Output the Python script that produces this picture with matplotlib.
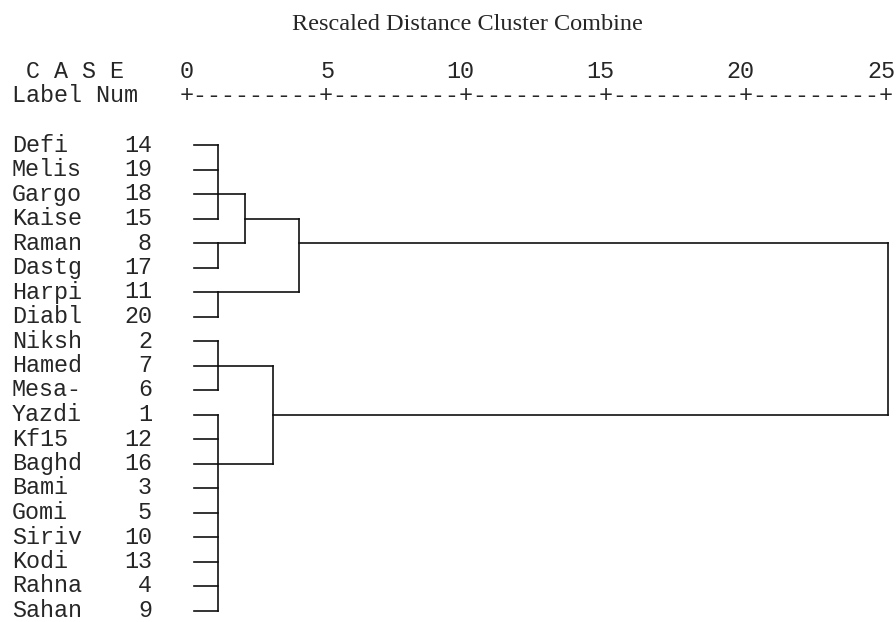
import matplotlib
matplotlib.use("Agg")
import matplotlib.pyplot as plt

# ---------------- Data ----------------
labels = ["Defi", "Melis", "Gargo", "Kaise", "Raman", "Dastg", "Harpi", "Diabl",
          "Niksh", "Hamed", "Mesa-", "Yazdi", "Kf15", "Baghd", "Bami", "Gomi",
          "Siriv", "Kodi", "Rahna", "Sahan"]
nums = [14, 19, 18, 15, 8, 17, 11, 20, 2, 7, 6, 1, 12, 16, 3, 5, 10, 13, 4, 9]

# first-level clusters: (first row, last row, row where the link leaves)
groups = {"A": (0, 3, 2), "B": (4, 5, 4), "C": (6, 7, 6),
          "D": (8, 10, 9), "E": (11, 19, 13)}
group_height = 1.1

# higher merges: name -> (left child, right child, height, row where link leaves)
merges = {"AB": ("A", "B", 2.07, 3),
          "ABC": ("AB", "C", 4.0, 4),
          "DE": ("D", "E", 3.07, 11),
          "ROOT": ("ABC", "DE", 25.0, None)}

ticks = [0, 5, 10, 15, 20, 25]
title = "Rescaled Distance Cluster Combine"

# ---------------- Layout ----------------
px_unit = 28.04      # pixels per distance unit
px_row = 24.5        # pixels per row
x0_px, y0_px = 187, 145
W, H = 896, 622
char = 0.5           # one monospace character in distance units
mono = "Liberation Mono"
mono_size = char * px_unit / 0.6 * 72 / 100
ink = "#262626"
line_ink = "#111111"

fig = plt.figure(figsize=(W / 100, H / 100), dpi=100)
ax = fig.add_axes([0, 0, 1, 1])
ax.set_xlim(-x0_px / px_unit, (W - x0_px) / px_unit)
ax.set_ylim((H - y0_px) / px_row, -y0_px / px_row)
ax.axis("off")

col0 = -12 * char - char / 2   # left edge of first text column

# title and header
ax.text(10, -4.9, title, ha="center", va="center", family="Liberation Serif",
        fontsize=17.5, color=ink)
ax.text(col0 + char, -3, "C A S E", ha="left", va="center", family=mono,
        fontsize=mono_size, color=ink)
ax.text(col0, -2, "Label Num", ha="left", va="center", family=mono,
        fontsize=mono_size, color=ink)
for t in ticks:
    ax.text(t + char / 2, -3, str(t), ha="right", va="center", family=mono,
            fontsize=mono_size, color=ink)
rule = "+" + "".join("-" * (int((b - a) / char) - 1) + "+" for a, b in zip(ticks[:-1], ticks[1:]))
ax.text(ticks[0] - char / 2, -2, rule, ha="left", va="center", family=mono,
        fontsize=mono_size, color=ink)

# case labels
for i, (lab, n) in enumerate(zip(labels, nums)):
    ax.text(col0, i, lab, ha="left", va="center", family=mono,
            fontsize=mono_size, color=ink)
    ax.text(col0 + 10 * char, i, str(n), ha="right", va="center", family=mono,
            fontsize=mono_size, color=ink)

lw = 1.2
leaf_start = char / 2

# leaves into first-level clusters
node = {}
for name, (first, last, out_row) in groups.items():
    for r in range(first, last + 1):
        ax.plot([leaf_start, group_height], [r, r], color=line_ink, lw=lw)
    ax.plot([group_height, group_height], [first, last], color=line_ink, lw=lw)
    node[name] = (group_height, out_row)

# higher merges
for name, (left, right, h, out_row) in merges.items():
    for child in (left, right):
        ch, cr = node[child]
        ax.plot([ch, h], [cr, cr], color=line_ink, lw=lw)
    ax.plot([h, h], [node[left][1], node[right][1]], color=line_ink, lw=lw)
    node[name] = (h, out_row)

fig.savefig("out.png", dpi=100, facecolor="white")
